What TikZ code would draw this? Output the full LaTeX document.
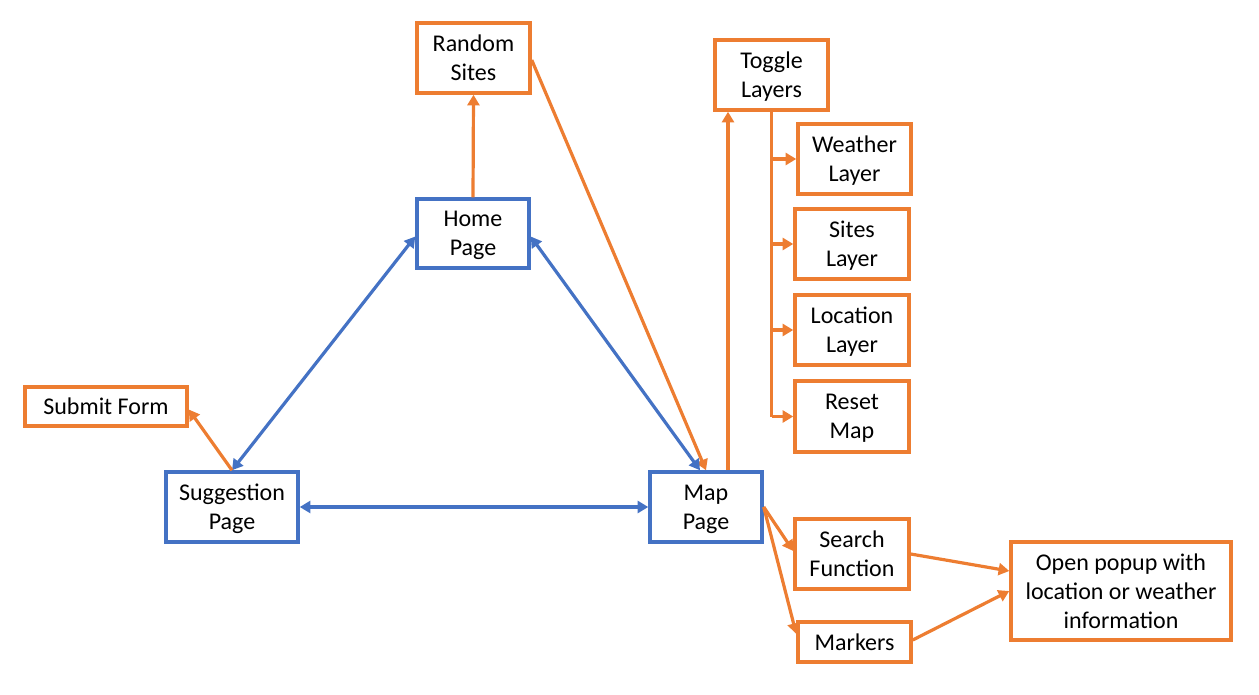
\documentclass[tikz,border=0pt]{standalone}
\usepackage{fontspec}
\setmainfont{Carlito}
\usetikzlibrary{arrows.meta,calc}
\definecolor{org}{HTML}{ED7D31}
\definecolor{blu}{HTML}{4472C4}
\begin{document}
\begin{tikzpicture}[x=0.75pt,y=-0.75pt,
  box/.style={draw,line width=2.6pt,fill=white,inner sep=0pt,align=center,
    font=\fontsize{18}{21.75}\selectfont,text depth=-2pt},
  obox/.style={box,draw=org},
  bbox/.style={box,draw=blu},
  sz/.style 2 args={minimum width=#1*0.75pt,minimum height=#2*0.75pt},
  tip/.style={-{Triangle[length=8pt,width=9pt]}},
  both/.style={{Triangle[length=8pt,width=9pt]}-{Triangle[length=8pt,width=9pt]}},
  ol/.style={draw=org,line width=2.4pt},
  bl/.style={draw=blu,line width=2.4pt},
  oc/.style={ol,tip},
  bc/.style={bl,both}]
\useasboundingbox (0,0) rectangle (1259,695);

\node[obox,sz={113}{70}] (rand) at (473.5,58) {Random\\Sites};
\node[bbox,sz={112}{69}] (home) at (473,233.5) {Home\\Page};
\node[obox,sz={113}{70}] (toggle) at (771.5,75) {Toggle\\Layers};
\node[obox,sz={113}{70}] (weather) at (854.5,159) {Weather\\Layer};
\node[obox,sz={114}{70}] (sites) at (852,244) {Sites\\Layer};
\node[obox,sz={114}{70}] (loc) at (852,330) {Location\\Layer};
\node[obox,sz={114}{71}] (reset) at (852,416.5) {Reset\\Map};
\node[obox,sz={162}{39}] (submit) at (106,406.5) {Submit Form};
\node[bbox,sz={132}{70}] (sugg) at (232,507) {Suggestion\\Page};
\node[bbox,sz={112}{70}] (map) at (706,507) {Map\\Page};
\node[obox,sz={114}{70}] (search) at (852,554) {Search\\Function};
\node[obox,sz={113}{40}] (markers) at (854.5,642) {Markers};
\node[obox,sz={220}{98}] (popup) at (1121,591) {Open popup with\\location or weather\\information};

% home to random
\draw[oc] (home.north) -- (rand.south);
\draw[oc] ($(rand.east)+(0,2)$) -- (map.north);
% blue triangle
\draw[bc] ($(home.west)+(0,3)$) -- (sugg.north);
\draw[bc] ($(home.east)+(0,3)$) -- ($(map.north)+(-6,0)$);
\draw[bc] (sugg.east) -- (map.west);
% submit
\draw[oc] (sugg.north) -- ($(submit.east)+(0,3)$);
% map to toggle
\coordinate (mt) at ($(map.north)+(22,0)$);
\draw[oc] (mt) -- (mt |- toggle.south);
% toggle tree
\draw[ol] (toggle.south) -- (toggle.south |- reset.west);
\draw[oc] (toggle.south |- weather.west) -- (weather.west);
\draw[oc] (toggle.south |- sites.west) -- (sites.west);
\draw[oc] (toggle.south |- loc.west) -- (loc.west);
\draw[oc] (toggle.south |- reset.west) -- (reset.west);
% map to search & markers
\draw[oc] (map.east) -- ($(search.west)+(0,-3)$);
\draw[oc] (map.east) -- ($(markers.west)+(0,-8)$);
% to popup
\draw[oc] (search.east) -- ($(popup.west)+(0,-20)$);
\draw[oc] ($(markers.east)+(0,-2)$) -- (popup.west);
\end{tikzpicture}
\end{document}
